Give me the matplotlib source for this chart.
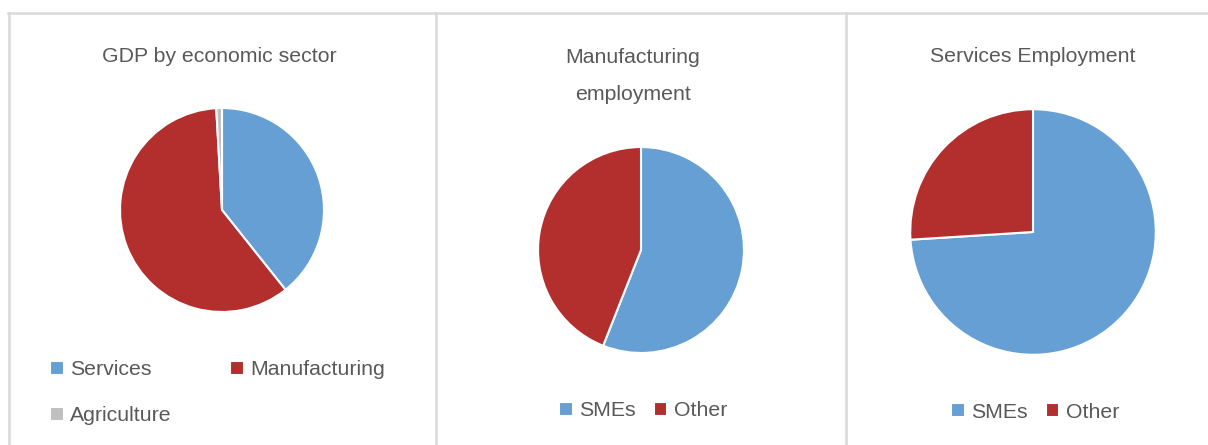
import matplotlib.pyplot as plt
from matplotlib.lines import Line2D

plt.rcParams['font.family'] = ['Liberation Sans', 'DejaVu Sans']

# data (percent)
gdp_labels = ['Services', 'Manufacturing', 'Agriculture']
gdp_values = [39.3, 59.8, 0.9]

manuf_labels = ['SMEs', 'Other']
manuf_values = [56, 44]

serv_labels = ['SMEs', 'Other']
serv_values = [74, 26]

blue = '#659fd4'
red = '#b22f2e'
grey = '#bfbfbf'
txt = '#595959'
border = '#d9d9d9'

W, H = 1208, 445
fig = plt.figure(figsize=(W / 100, H / 100), dpi=100)


def px_axes(cx, cy, r):
    # square axes around a pie of radius r (pixels, y from top)
    return fig.add_axes([(cx - r) / W, (H - cy - r) / H, 2 * r / W, 2 * r / H])


fs = 15.3

# panel frames
fig.add_artist(Line2D([8 / W, 1], [1 - 13 / H] * 2, color=border, lw=1.8))
for x in [9, 435.5, 846]:
    fig.add_artist(Line2D([x / W] * 2, [0, 1 - 13 / H], color=border, lw=1.8))

panels = [
    (gdp_values, gdp_labels, [blue, red, grey], (222, 210, 103)),
    (manuf_values, manuf_labels, [blue, red], (641, 250, 104)),
    (serv_values, serv_labels, [blue, red], (1033, 232, 124)),
]

axes = []
for vals, labs, cols, (cx, cy, r) in panels:
    ax = px_axes(cx, cy, r)
    wedges, _ = ax.pie(vals, colors=cols, startangle=90, counterclock=False,
                       radius=1, wedgeprops=dict(edgecolor='white', linewidth=1.5))
    ax.set_xlim(-1.01, 1.01)
    ax.set_ylim(-1.01, 1.01)
    axes.append((ax, wedges, labs))

fig.text(219 / W, 1 - 57 / H, 'GDP by economic sector', ha='center', va='center',
         fontsize=fs, color=txt)
fig.text(633 / W, 1 - 76 / H, 'Manufacturing\nemployment', ha='center', va='center',
         fontsize=fs, color=txt, linespacing=2.15)
fig.text(1033 / W, 1 - 57 / H, 'Services Employment', ha='center', va='center',
         fontsize=fs, color=txt)

legend_kw = dict(frameon=False, fontsize=fs, labelcolor=txt, handlelength=0.64,
                 handleheight=0.64, handletextpad=0.3, borderpad=0, borderaxespad=0)

# first legend is filled row by row in the reference: Services, Manufacturing / Agriculture
ax, wedges, labs = axes[0]
order = [0, 2, 1]
fig.legend([wedges[i] for i in order], [labs[i] for i in order], loc='upper left',
           bbox_to_anchor=(50 / W, 1 - 360 / H), ncol=2, columnspacing=2.75,
           labelspacing=1.29, **legend_kw)

ax, wedges, labs = axes[1]
fig.legend(wedges, labs, loc='center', bbox_to_anchor=(643 / W, 1 - 411 / H),
           ncol=2, columnspacing=0.85, **legend_kw)

ax, wedges, labs = axes[2]
fig.legend(wedges, labs, loc='center', bbox_to_anchor=(1035 / W, 1 - 412 / H),
           ncol=2, columnspacing=0.85, **legend_kw)

fig.savefig('out.png', dpi=100, facecolor='white')
